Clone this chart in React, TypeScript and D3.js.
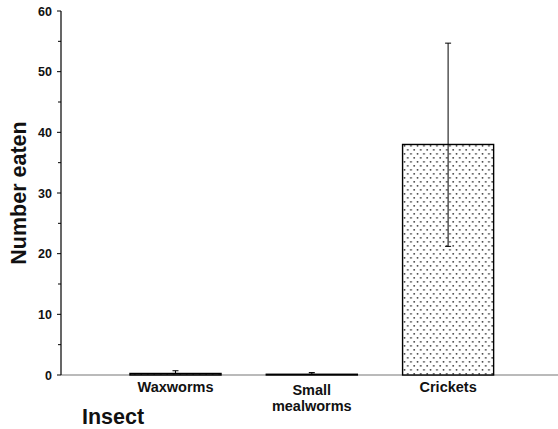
import React from "react";
import * as d3 from "d3";

const categories = ["Waxworms", "Small mealworms", "Crickets"];
const categoryLines = [["Waxworms"], ["Small", "mealworms"], ["Crickets"]];
const means = [0.25, 0.12, 38];
const errUpper = [0.7, 0.4, 54.7];
const errLower = [0.25, 0.12, 21.2];
const yTicks = [0, 10, 20, 30, 40, 50, 60];
const yMinorTicks = [5, 15, 25, 35, 45, 55];

const W = 558;
const H = 429;

export default function App() {
  const y = d3.scaleLinear().domain([0, 60]).range([375, 11]);
  const x = d3.scaleBand().domain(categories).range([61, 562.6]).paddingInner(0.332).paddingOuter(0.506);
  const font = "Arial, 'Liberation Sans', Helvetica, sans-serif";
  const axisX = 61;
  return (
    <svg width={W} height={H} style={{ position: "absolute", left: 0, top: 0 }} fontFamily={font}>
      <defs>
        <pattern id="dots" width="6.5" height="8" patternUnits="userSpaceOnUse">
          <rect width="6.5" height="8" fill="#fff" />
          <circle cx="1.5" cy="1.8" r="0.9" fill="#333" />
          <circle cx="4.75" cy="5.8" r="0.9" fill="#333" />
        </pattern>
      </defs>
      <line x1={axisX} x2={W} y1={y(0)} y2={y(0)} stroke="#777" strokeWidth={1.2} />
      {categories.map((c, i) => {
        const x0 = x(c)!;
        const bw = x.bandwidth();
        const top = y(means[i]);
        const cx = x0 + bw / 2;
        return (
          <g key={c}>
            <rect x={x0} y={top} width={bw} height={Math.max(y(0) - top, 0)} fill="url(#dots)" stroke="#000" strokeWidth={1.4} />
            <line x1={cx} x2={cx} y1={y(errUpper[i])} y2={y(errLower[i])} stroke="#000" strokeWidth={1} />
            <line x1={cx - 3} x2={cx + 3} y1={y(errUpper[i])} y2={y(errUpper[i])} stroke="#000" strokeWidth={1} />
            <line x1={cx - 3} x2={cx + 3} y1={y(errLower[i])} y2={y(errLower[i])} stroke="#000" strokeWidth={1} />
            {categoryLines[i].map((t, j) => (
              <text
                key={j}
                x={cx}
                y={(categoryLines[i].length > 1 ? 395 : 391.5) + j * 16}
                textAnchor="middle"
                fontSize={14.5}
                fontWeight="bold"
                fill="#111"
              >
                {t}
              </text>
            ))}
          </g>
        );
      })}
      <line x1={axisX} x2={axisX} y1={y(60)} y2={y(0)} stroke="#000" strokeWidth={1.2} />
      {yTicks.map((t) => (
        <g key={t}>
          <line x1={axisX - 4} x2={axisX} y1={y(t)} y2={y(t)} stroke="#000" strokeWidth={1} />
          <text x={axisX - 9} y={y(t) + 4.5} textAnchor="end" fontSize={12.5} fontWeight="bold" fill="#111">
            {t}
          </text>
        </g>
      ))}
      {yMinorTicks.map((t) => (
        <line key={t} x1={axisX - 3} x2={axisX} y1={y(t)} y2={y(t)} stroke="#000" strokeWidth={1} />
      ))}
      <text
        transform={`translate(26, ${(y(0) + y(60)) / 2}) rotate(-90)`}
        textAnchor="middle"
        fontSize={21.5}
        fontWeight="bold"
        fill="#111"
      >
        Number eaten
      </text>
      <text x={82} y={424} fontSize={21.5} fontWeight="bold" fill="#111">
        Insect
      </text>
    </svg>
  );
}
